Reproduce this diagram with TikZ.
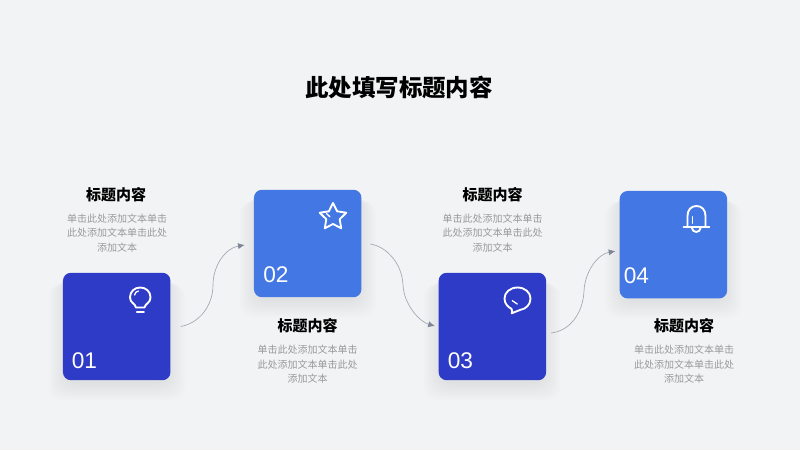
\documentclass[tikz,border=0pt]{standalone}
\usepackage{fontspec}
\usepackage{xcolor}
\usetikzlibrary{arrows.meta,backgrounds}
\newfontfamily\cjk{Noto Sans CJK SC}
\newfontfamily\numfont{Liberation Sans}
\definecolor{pagebg}{HTML}{F2F3F5}
\definecolor{deepblue}{HTML}{2E3BC6}
\definecolor{liteblue}{HTML}{4378E4}
\definecolor{bodygrey}{HTML}{9A9A9A}
\definecolor{linkgrey}{HTML}{A3A7AF}
\definecolor{tipgrey}{HTML}{7E8596}
\tikzset{
  cardbox/.style={minimum width=80.6pt, minimum height=80.6pt, inner sep=0pt, rounded corners=6pt},
  carddeep/.style={cardbox, fill=deepblue},
  cardlite/.style={cardbox, fill=liteblue},
  cardglow/.style={fill=deepblue, opacity=0.0045, rounded corners=10pt},
  cardnum/.style={anchor=west, inner sep=0pt, text=white, font=\numfont\fontsize{17}{17}\selectfont},
  maintitle/.style={inner sep=0pt, text=black, font=\cjk\bfseries\fontsize{17.6}{20}\selectfont},
  headtext/.style={inner sep=0pt, text=black, font=\cjk\bfseries\fontsize{11.25}{13}\selectfont},
  bodytext/.style={inner sep=0pt, align=center, text=bodygrey, font=\cjk\fontsize{7.5}{10.9}\selectfont},
  linkline/.style={line width=0.5pt, draw=linkgrey, -{Latex[length=5pt,width=4.5pt,color=tipgrey]}},
  iconline/.style={line width=1.4pt, draw=white, line cap=round, line join=round},
}
\begin{document}
\begin{tikzpicture}[x=0.75pt,y=-0.75pt]
\useasboundingbox (0,0) rectangle (800,450);
\node[maintitle] (title) at (399,87) {此处填写标题内容};
% cards
\node[carddeep] (carda) at (116.7,326.5) {};
\node[cardlite] (cardb) at (307.7,243.5) {};
\node[carddeep] (cardc) at (492.4,326.5) {};
\node[cardlite] (cardd) at (673.4,244.7) {};
\node[cardnum] (numa) at (71.5,361) {01};
\node[cardnum] (numb) at (263,275) {02};
\node[cardnum] (numc) at (447.5,361) {03};
\node[cardnum] (numd) at (623.5,276) {04};
% texts
\node[headtext] (heada) at (116,194.5) {标题内容};
\node[bodytext] (bodya) at (117,233) {单击此处添加文本单击\\此处添加文本单击此处\\添加文本};
\node[headtext] (headb) at (307.5,326) {标题内容};
\node[bodytext] (bodyb) at (307.5,364.5) {单击此处添加文本单击\\此处添加文本单击此处\\添加文本};
\node[headtext] (headc) at (492.5,194.5) {标题内容};
\node[bodytext] (bodyc) at (492.5,233) {单击此处添加文本单击\\此处添加文本单击此处\\添加文本};
\node[headtext] (headd) at (684,326) {标题内容};
\node[bodytext] (bodyd) at (684,364.5) {单击此处添加文本单击\\此处添加文本单击此处\\添加文本};
% connectors
\coordinate (linka) at ([shift={(10,0)}]carda.east);
\coordinate (enda) at ([shift={(-9,1.5)}]cardb.west);
\coordinate (linkb) at ([shift={(8.5,0.5)}]cardb.east);
\coordinate (endb) at ([shift={(-3.5,-0.5)}]cardc.west);
\coordinate (linkc) at ([shift={(4.5,6.5)}]cardc.east);
\coordinate (endc) at ([shift={(-4,6.5)}]cardd.west);
\draw[linkline] (linka) .. controls (200,323) and (213,305) .. (213,285) .. controls (213,265) and (226,248) .. (enda);
\draw[linkline] (linkb) .. controls (385,246) and (402,262) .. (403,285) .. controls (404,305) and (420,322) .. (endb);
\draw[linkline] (linkc) .. controls (570,331) and (583,313) .. (584,291) .. controls (585,271) and (598,254) .. (endc);
% bulb
\draw[iconline] (136,307.5) .. controls (135,303) and (130,303) .. (130,297.5) .. controls (130,291.5) and (134.5,287.5) .. (140.3,287.5) .. controls (146,287.5) and (150.5,291.5) .. (150.5,297.5) .. controls (150.5,303) and (145.5,303) .. (144.5,307.5) -- cycle;
\draw[iconline] (136.8,312.3) -- (144,312.3);
\draw[iconline,line width=1pt] (134.5,295) .. controls (135,292.5) and (136.5,291.5) .. (138.5,291);
% star
\draw[iconline] (333,203) -- (337.1,211.3) -- (346.3,212.7) -- (339.7,219.2) -- (341.2,228.3) -- (333,224) -- (324.8,228.3) -- (326.3,219.2) -- (319.7,212.7) -- (328.9,211.3) -- cycle;
\draw[iconline,line width=1pt] (326.5,213.5) -- (329.8,216.7);
% bubble
\draw[iconline] (517.5,287.5) .. controls (510,287.5) and (504.5,292.5) .. (504.5,298.5) .. controls (504.5,303) and (507.5,307) .. (511.5,308.8) .. controls (512.3,310.3) and (512.3,312) .. (511.7,313.3) .. controls (514.5,312.3) and (517.5,310.8) .. (520.5,309.8) .. controls (526,309) and (530.5,304.5) .. (530.5,298.5) .. controls (530.5,292.5) and (525,287.5) .. (517.5,287.5) -- cycle;
\draw[iconline,line width=1pt] (512.3,300.7) -- (517.3,304);
% bell
\draw[iconline] (687.5,227.3) -- (687.5,216) .. controls (687.5,210) and (691,206) .. (696.5,206) .. controls (702,206) and (705.5,210) .. (705.5,216) -- (705.5,227.3);
\draw[iconline] (683.5,227.3) -- (709.3,227.3);
\draw[iconline] (691.7,227.3) .. controls (692,233.5) and (700.5,233.5) .. (700.8,227.3);
\draw[iconline,line width=1pt] (692.3,216.7) -- (692.3,223.3);
\begin{scope}[on background layer]
\fill[pagebg] (0,0) rectangle (800,450);
\foreach \cardname in {carda,cardb,cardc,cardd}
  \foreach \grow in {1,...,18}
    \fill[cardglow] ([shift={(-\grow+3,\grow/2+3)}]\cardname.north west) rectangle ([shift={(\grow-3,\grow+2)}]\cardname.south east);
\end{scope}
\end{tikzpicture}
\end{document}
